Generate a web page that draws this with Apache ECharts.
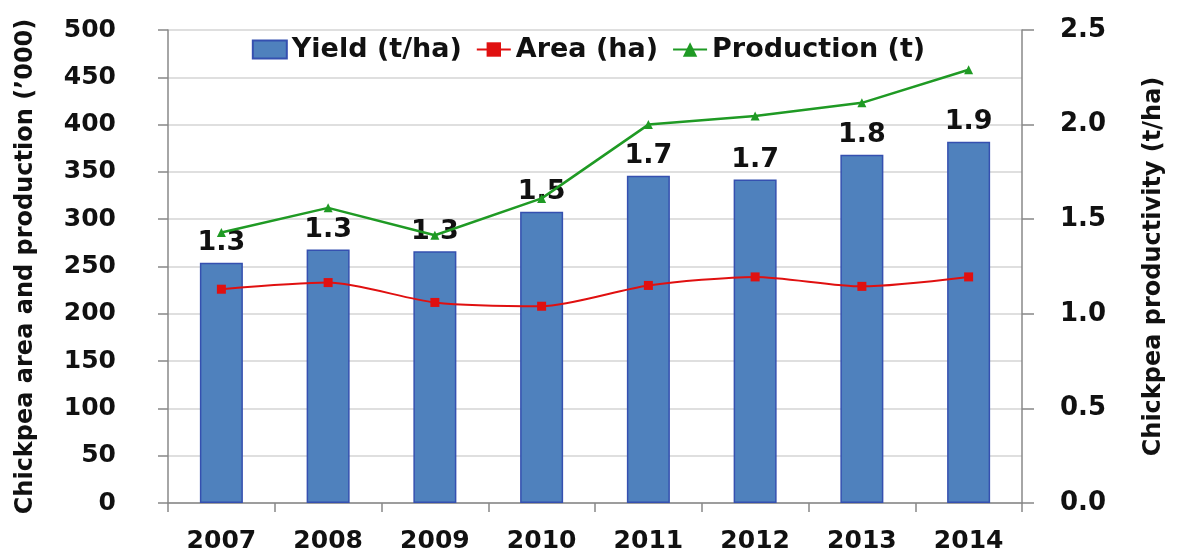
<!DOCTYPE html>
<html>
<head>
<meta charset="utf-8">
<script src="https://cdn.jsdelivr.net/npm/echarts@6/dist/echarts.min.js"></script>
<style>
  html, body { margin: 0; padding: 0; background: #fff; }
  #chart { width: 1177px; height: 556px; }
</style>
</head>
<body>
<div id="chart"></div>
<script>
  var years = ['2007', '2008', '2009', '2010', '2011', '2012', '2013', '2014'];
  // yield in t/ha (right axis)
  var yieldData = [1.27, 1.34, 1.33, 1.54, 1.73, 1.71, 1.84, 1.91];
  // area in ha ('000, left axis)
  var areaData = [226, 233, 212, 208, 230, 239, 229, 239];
  // production in t ('000, left axis)
  var productionData = [286, 312, 283, 322, 400, 409, 423, 458];

  var font = 'DejaVu Sans';
  var chart = echarts.init(document.getElementById('chart'));

  var option = {
    backgroundColor: '#fff',
    animation: false,
    textStyle: { fontFamily: font },
    grid: { left: 168, right: 155, top: 30, bottom: 53 },
    legend: {
      top: 34,
      left: 'center',
      itemGap: 14,
      itemWidth: 34,
      itemHeight: 18,
      padding: [2, 4],
      textStyle: { fontFamily: font, fontWeight: 'bold', fontSize: 27, color: '#111' },
      data: [
        { name: 'Yield (t/ha)', icon: 'rect' },
        { name: 'Area (ha)' },
        { name: 'Production (t)' }
      ]
    },
    xAxis: {
      type: 'category',
      data: years,
      axisLine: { lineStyle: { color: '#888', width: 1.5 } },
      axisTick: { show: true, length: 9, lineStyle: { color: '#888', width: 1.5 } },
      axisLabel: { fontFamily: font, fontWeight: 'bold', fontSize: 25, color: '#111', margin: 26 },
      splitLine: { show: false }
    },
    yAxis: [
      {
        type: 'value',
        min: 0, max: 500, interval: 50,
        name: 'Chickpea area and production (\u2019000)',
        nameLocation: 'middle',
        nameGap: 130,
        nameTextStyle: { fontFamily: font, fontWeight: 'bold', fontSize: 24, color: '#111' },
        axisLine: { show: true, lineStyle: { color: '#888', width: 1.5 } },
        axisTick: { show: true, length: 10, lineStyle: { color: '#888', width: 1.5 } },
        axisLabel: { fontFamily: font, fontWeight: 'bold', fontSize: 25, color: '#111', margin: 52 },
        splitLine: { show: true, lineStyle: { color: '#d4d4d4', width: 1.5 } }
      },
      {
        type: 'value',
        min: 0, max: 2.5, interval: 0.5,
        name: 'Chickpea productivity (t/ha)',
        nameLocation: 'middle',
        nameGap: 120,
        nameTextStyle: { fontFamily: font, fontWeight: 'bold', fontSize: 24, color: '#111' },
        axisLine: { show: true, lineStyle: { color: '#888', width: 1.5 } },
        axisTick: { show: true, length: 12, lineStyle: { color: '#888', width: 1.5 } },
        axisLabel: {
          fontFamily: font, fontWeight: 'bold', fontSize: 26, color: '#111', margin: 38,
          formatter: function (v) { return v.toFixed(1); }
        },
        splitLine: { show: false }
      }
    ],
    series: [
      {
        name: 'Yield (t/ha)',
        type: 'bar',
        yAxisIndex: 1,
        data: yieldData,
        barWidth: 43,
        itemStyle: { color: '#4F81BD', borderColor: '#3550B0', borderWidth: 1.5 },
        label: {
          show: true,
          position: 'top',
          distance: 6,
          fontFamily: font, fontWeight: 'bold', fontSize: 27, color: '#111',
          formatter: function (p) { return p.value.toFixed(1); }
        },
        z: 1
      },
      {
        name: 'Area (ha)',
        type: 'line',
        yAxisIndex: 0,
        data: areaData,
        smooth: 0.25,
        symbol: 'rect',
        symbolSize: 9,
        lineStyle: { color: '#E01010', width: 2 },
        itemStyle: { color: '#E01010' },
        z: 3
      },
      {
        name: 'Production (t)',
        type: 'line',
        yAxisIndex: 0,
        data: productionData,
        symbol: 'triangle',
        symbolSize: 9,
        lineStyle: { color: '#1F9A24', width: 2.5 },
        itemStyle: { color: '#1F9A24' },
        z: 3
      }
    ]
  };

  chart.setOption(option);
</script>
</body>
</html>
